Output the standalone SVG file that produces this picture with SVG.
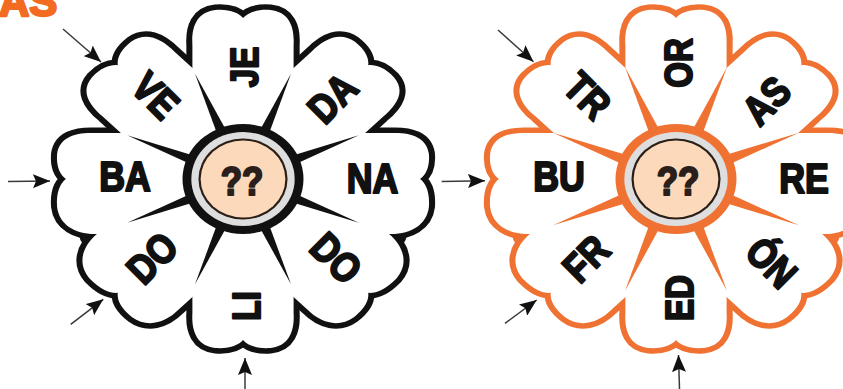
<svg xmlns="http://www.w3.org/2000/svg" width="843" height="389" viewBox="0 0 843 389">
<style>
.lbl{font-family:"Liberation Sans",Arial,sans-serif;font-weight:bold;font-size:41px;text-anchor:middle;fill:#111;stroke:#111;stroke-width:2.2;stroke-linejoin:round}
.v{font-size:39px}
.h{font-size:42px}
.q{fill:#2a1f1a;stroke:#2a1f1a}
.wire{stroke:#3a3a3a;stroke-width:1.5;fill:none;marker-end:url(#ah)}
.title{font-family:"Liberation Sans",Arial,sans-serif;font-weight:bold;font-size:42px;fill:#f26b21;stroke:#f26b21;stroke-width:2.5;stroke-linejoin:round}
</style>
<defs>
<marker id="ah" markerUnits="userSpaceOnUse" markerWidth="17" markerHeight="14" refX="17" refY="7" orient="auto"><path d="M0,0 L17,7 L0,14 L3,7 Z" fill="#111"/></marker>
<path id="pS" d="M-46,0 L-46,-134 C-47,-152 -42,-167 -25,-169 C-12,-170 -4,-166 0,-161 C4,-166 12,-170 25,-169 C42,-167 47,-152 46,-134 L46,0 Z"/>
<path id="pA" d="M-55,0 L-55,-132 C-56,-152 -46,-167 -28,-169 C-13,-170 -4,-166 0,-161 C4,-166 12,-170 25,-169 C42,-167 47,-152 46,-134 L46,0 Z"/>
<path id="pB" d="M-46,0 L-46,-134 C-47,-152 -42,-167 -25,-169 C-12,-170 -4,-166 0,-161 C4,-166 13,-170 28,-169 C46,-167 56,-152 55,-132 L55,0 Z"/>
<path id="pC" d="M-51,0 L-51,-133 C-52,-152 -44,-167 -26,-169 C-12,-170 -4,-166 0,-161 C4,-166 13,-170 28,-169 C46,-167 56,-152 55,-132 L55,0 Z"/>
<path id="pD" d="M-55,0 L-55,-132 C-56,-152 -46,-167 -28,-169 C-13,-170 -4,-166 0,-161 C4,-166 12,-170 26,-169 C44,-167 52,-152 51,-133 L51,0 Z"/>
<path id="wk" d="M-4.5,-50 L0,-114 L4.5,-50 Z"/>
<path id="wo" d="M-5,-50 L0,-121 L5,-50 Z"/>
<g id="petals">
<use href="#pS"/>
<use href="#pS" transform="rotate(45)"/>
<use href="#pB" transform="rotate(90)"/>
<use href="#pD" transform="rotate(135)"/>
<use href="#pS" transform="rotate(180)"/>
<use href="#pC" transform="rotate(225)"/>
<use href="#pA" transform="rotate(270)"/>
<use href="#pS" transform="rotate(315)"/>
</g>
</defs>

<text class="title" x="-1" y="16">AS</text>

<!-- Left flower (black) -->
<g id="flower-left">
<g transform="translate(243,179) scale(1.1,1)">
<g fill="#111" stroke="#111" stroke-width="11" stroke-linejoin="round">
<use href="#petals"/>
<circle cx="-139.5" cy="57.8" r="3.5"/>
<circle cx="139.5" cy="57.8" r="3.5"/>
</g>
<use href="#petals" fill="#fff"/>
<g fill="#111">
<use href="#wk" transform="rotate(22.5)"/>
<use href="#wk" transform="rotate(67.5)"/>
<use href="#wk" transform="rotate(112.5)"/>
<use href="#wk" transform="rotate(157.5)"/>
<use href="#wk" transform="rotate(202.5)"/>
<use href="#wk" transform="rotate(247.5)"/>
<use href="#wk" transform="rotate(292.5)"/>
<use href="#wk" transform="rotate(337.5)"/>
</g>
<circle r="55" fill="#111"/>
<circle r="47" fill="#dedede"/>
<circle r="40.5" fill="#2b1e16"/>
<circle r="38.5" fill="#fdd9bb"/>
</g>
<g id="L-center"><text class="lbl q" transform="translate(242,180) scale(0.85,1)" y="14.5">??</text></g>
<g id="L-JE"><text class="lbl v" transform="translate(244,67) rotate(-90) scale(0.85,1)" y="14">JE</text></g>
<g id="L-DA"><text class="lbl" transform="translate(332,97.5) rotate(-45) scale(0.85,1)" y="15">DA</text></g>
<g id="L-NA"><text class="lbl h" transform="translate(372.5,177.5) scale(0.85,1)" y="15.3">NA</text></g>
<g id="L-DO2"><text class="lbl" transform="translate(336.7,257.5) rotate(45) scale(0.85,1)" y="15">DO</text></g>
<g id="L-LI"><text class="lbl v" transform="translate(245.5,306) rotate(-90) scale(0.85,1)" y="14">LI</text></g>
<g id="L-DO1"><text class="lbl" transform="translate(151.5,257.5) rotate(-45) scale(0.85,1)" y="15">DO</text></g>
<g id="L-BA"><text class="lbl h" transform="translate(125,176) scale(0.85,1)" y="15.3">BA</text></g>
<g id="L-VE"><text class="lbl" transform="translate(156,95) rotate(45) scale(0.85,1)" y="15">VE</text></g>
</g>

<!-- Right flower (orange) -->
<g id="flower-right">
<g transform="translate(676,179) scale(1.1,1)">
<g fill="#f07232" stroke="#f07232" stroke-width="11" stroke-linejoin="round">
<use href="#petals"/>
<circle cx="-139.5" cy="57.8" r="3.5"/>
<circle cx="139.5" cy="57.8" r="3.5"/>
</g>
<use href="#petals" fill="#fff"/>
<g fill="#f07232">
<use href="#wo" transform="rotate(22.5)"/>
<use href="#wo" transform="rotate(67.5)"/>
<use href="#wo" transform="rotate(112.5)"/>
<use href="#wo" transform="rotate(157.5)"/>
<use href="#wo" transform="rotate(202.5)"/>
<use href="#wo" transform="rotate(247.5)"/>
<use href="#wo" transform="rotate(292.5)"/>
<use href="#wo" transform="rotate(337.5)"/>
</g>
<circle r="55" fill="#f07232"/>
<circle r="47" fill="#dedede"/>
<circle r="40.5" fill="#2b1e16"/>
<circle r="38.5" fill="#fdd9bb"/>
</g>
<g id="R-center"><text class="lbl q" transform="translate(678,180) scale(0.85,1)" y="14.5">??</text></g>
<g id="R-OR"><text class="lbl v" transform="translate(678,63) rotate(-90) scale(0.85,1)" y="14">OR</text></g>
<g id="R-AS"><text class="lbl" transform="translate(766,100) rotate(-45) scale(0.85,1)" y="15">AS</text></g>
<g id="R-RE"><text class="lbl h" transform="translate(804,177.5) scale(0.85,1)" y="15.3">RE</text></g>
<g id="R-ON"><text class="lbl" transform="translate(772,262) rotate(45) scale(0.85,1)" y="15">ÓN</text></g>
<g id="R-ED"><text class="lbl v" transform="translate(679,298) rotate(-90) scale(0.85,1)" y="14">ED</text></g>
<g id="R-FR"><text class="lbl" transform="translate(585.5,258) rotate(-45) scale(0.85,1)" y="15">FR</text></g>
<g id="R-BU"><text class="lbl h" transform="translate(559,175.5) scale(0.85,1)" y="15.3">BU</text></g>
<g id="R-TR"><text class="lbl" transform="translate(588,95) rotate(45) scale(0.85,1)" y="15">TR</text></g>
</g>

<g id="connectors">
<line class="wire" x1="63" y1="29" x2="101" y2="62"/>
<line class="wire" x1="8" y1="181.5" x2="50" y2="181"/>
<line class="wire" x1="70.7" y1="324.3" x2="103.3" y2="299.3"/>
<line class="wire" x1="245" y1="389" x2="245" y2="358"/>
<line class="wire" x1="498" y1="30" x2="533.5" y2="61.7"/>
<line class="wire" x1="441.7" y1="181.5" x2="485" y2="180.7"/>
<line class="wire" x1="505" y1="323.3" x2="536.7" y2="300"/>
<line class="wire" x1="679.5" y1="389" x2="678.5" y2="355"/>
</g>
</svg>
